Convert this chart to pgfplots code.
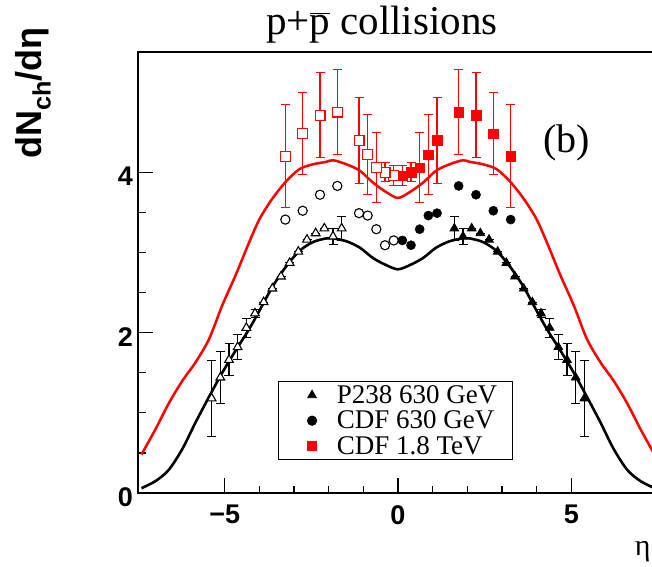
\documentclass[border=0pt]{standalone}
\usepackage{fontspec}
\setmainfont{Liberation Serif}
\newfontfamily\hv{Liberation Sans}
\usepackage{pgfplots}
\pgfplotsset{compat=1.18}
\begin{document}
\begin{tikzpicture}
\begin{axis}[
 at={(0pt,0pt)}, anchor=south west,
 scale only axis, width=520pt, height=441pt,
 xmin=-7.5, xmax=7.5, ymin=0, ymax=5.5,
 axis line style={line width=1.6pt},
 xtick={-5,0,5}, xticklabels={−5,0,5},
 ytick={0,2,4}, yticklabels={0,2,4},
 minor x tick num=4, minor y tick num=3,
 tick align=inside, xtick pos=bottom, ytick pos=left,
 major tick length=15pt, minor tick length=7.5pt,
 tick style={line width=1.3pt, black},
 xticklabel style={font=\hv\bfseries\fontsize{27}{27}\selectfont, inner sep=0pt, yshift=-12pt},
 yticklabel style={font=\hv\bfseries\fontsize{27}{27}\selectfont, inner sep=0pt, xshift=-5pt, yshift=-4pt},
 title={p+\(\overline{\mbox{p}}\) collisions},
 title style={font=\fontsize{41}{41}\selectfont, at={(axis description cs:0.469,1.027)}, anchor=base, inner sep=0pt},
 ylabel={dN\textsubscript{ch}/dη},
 ylabel style={font=\hv\bfseries\fontsize{36}{36}\selectfont, at={(axis description cs:-0.202,1.057)}, anchor=east, inner sep=0pt},
 xlabel={η},
 xlabel style={font=\fontsize{30}{30}\selectfont, at={(axis description cs:0.955,-0.134)}, anchor=west, inner sep=0pt},
 legend style={at={(axis description cs:0.269,0.254)}, anchor=north west, draw=black, line width=1pt, fill=white,
   font=\fontsize{27}{27}\selectfont, inner xsep=29pt, inner ysep=2pt, row sep=2pt,
   /tikz/every odd column/.append style={column sep=18pt}},
 legend cell align=left,
]
% P238 630 GeV, filled (positive eta)
\addplot[only marks, mark=triangle*, mark size=5pt, black, mark options={fill=black, line width=0.8pt},
  error bars/.cd, y dir=both, y explicit, error bar style={line width=1.1pt, black},
  error mark options={rotate=90, mark size=4.5pt, line width=1.1pt, black}]
 table[x=x, y=y, y error=e] {
x y e
1.625 3.30 0.15
1.875 3.20 0.10
2.125 3.30 0
2.375 3.24 0
2.625 3.16 0
2.875 3.01 0
3.125 2.87 0
3.375 2.70 0
3.625 2.55 0
3.875 2.38 0
4.125 2.24 0.05
4.375 2.06 0.115
4.625 1.82 0.16
4.875 1.66 0.20
5.125 1.44 0.32
5.375 1.18 0.47
};
\addlegendentry{\makebox[145pt][l]{P238 630 GeV}}
% CDF 630 GeV filled
\addplot[only marks, mark=*, mark size=4.6pt, black, mark options={fill=black}]
 table[x=x, y=y] {
x y
0.125 3.15
0.375 3.09
0.625 3.29
0.875 3.46
1.125 3.49
1.75 3.83
2.25 3.72
2.75 3.52
3.25 3.41
};
\addlegendentry{\makebox[145pt][l]{CDF 630 GeV}}
% CDF 1.8 TeV filled
\addplot[only marks, mark=square*, mark size=4.7pt, red, mark options={fill=red},
  error bars/.cd, y dir=both, y explicit, error bar style={line width=1.1pt, red},
  error mark options={rotate=90, mark size=4.5pt, line width=1.1pt, red}]
 table[x=x, y=y, y error=e] {
x y e
0.125 3.96 0.12
0.375 4.00 0.12
0.625 4.06 0.44
0.875 4.22 0.50
1.125 4.40 0.535
1.75 4.75 0.53
2.25 4.71 0.53
2.75 4.48 0.51
3.25 4.20 0.64
};
\addlegendentry{\makebox[145pt][l]{CDF 1.8 TeV}}
% reflected (open) points
\addplot[forget plot, only marks, mark=triangle*, mark size=5pt, black, mark options={fill=white, line width=1.1pt},
  error bars/.cd, y dir=both, y explicit, error bar style={line width=1.1pt, black},
  error mark options={rotate=90, mark size=4.5pt, line width=1.1pt, black}]
 table[x=x, y=y, y error=e] {
x y e
-1.625 3.30 0.15
-1.875 3.20 0.10
-2.125 3.30 0
-2.375 3.24 0
-2.625 3.16 0
-2.875 3.01 0
-3.125 2.87 0
-3.375 2.70 0
-3.625 2.55 0
-3.875 2.38 0
-4.125 2.24 0.05
-4.375 2.06 0.115
-4.625 1.82 0.16
-4.875 1.66 0.20
-5.125 1.44 0.32
-5.375 1.18 0.47
};
\addplot[forget plot, only marks, mark=*, mark size=4.6pt, black, mark options={fill=white, line width=1.1pt}]
 table[x=x, y=y] {
x y
-0.125 3.15
-0.375 3.09
-0.625 3.29
-0.875 3.46
-1.125 3.49
-1.75 3.83
-2.25 3.72
-2.75 3.52
-3.25 3.41
};
\addplot[forget plot, only marks, mark=square*, mark size=4.9pt, red, mark options={fill=white, line width=1.2pt},
  error bars/.cd, y dir=both, y explicit, error bar style={line width=1.1pt, red},
  error mark options={rotate=90, mark size=4.5pt, line width=1.1pt, red}]
 table[x=x, y=y, y error=e] {
x y e
-0.125 3.96 0.12
-0.375 4.00 0.12
-0.625 4.06 0.44
-0.875 4.22 0.50
-1.125 4.40 0.535
-1.75 4.75 0.53
-2.25 4.71 0.53
-2.75 4.48 0.51
-3.25 4.20 0.64
};
% model curves
\addplot[forget plot, black, line width=2.6pt, smooth, no markers] coordinates {
(-7.4,0.06) (-6.99,0.15) (-6.61,0.29) (-6.22,0.55) (-5.84,0.88) (-5.45,1.20) (-5.07,1.50) (-4.68,1.78)
(-4.30,2.04) (-3.99,2.28) (-3.61,2.58) (-3.22,2.83) (-2.84,3.02) (-2.45,3.13) (-2.07,3.175) (-1.87,3.175)
(-1.49,3.14) (-1.10,3.06) (-0.72,2.93) (-0.33,2.84) (0,2.79)
(0.33,2.84) (0.72,2.93) (1.10,3.06) (1.49,3.14) (1.87,3.175) (2.07,3.175) (2.45,3.13) (2.84,3.02)
(3.22,2.83) (3.61,2.58) (3.99,2.28) (4.30,2.04) (4.68,1.78) (5.07,1.50) (5.45,1.20) (5.84,0.88)
(6.22,0.55) (6.61,0.29) (6.99,0.15) (7.4,0.06)
};
\addplot[forget plot, red, line width=2.5pt, smooth, no markers] coordinates {
(-7.4,0.48) (-6.99,0.80) (-6.61,1.12) (-6.22,1.40) (-5.84,1.63) (-5.45,1.92) (-5.07,2.34) (-4.68,2.72)
(-4.30,3.12) (-3.99,3.42) (-3.61,3.68) (-3.22,3.89) (-2.84,4.04) (-2.45,4.10) (-2.07,4.13) (-1.87,4.15)
(-1.49,4.10) (-1.10,4.02) (-0.72,3.87) (-0.33,3.75) (0,3.68)
(0.33,3.75) (0.72,3.87) (1.10,4.02) (1.49,4.10) (1.87,4.15) (2.07,4.13) (2.45,4.10) (2.84,4.04)
(3.22,3.89) (3.61,3.68) (3.99,3.42) (4.30,3.12) (4.68,2.72) (5.07,2.34) (5.45,1.92) (5.84,1.63)
(6.22,1.40) (6.61,1.12) (6.99,0.80) (7.4,0.48)
};
\node[font=\fontsize{40}{40}\selectfont, anchor=base] at (axis cs:4.87,4.25) {(b)};
\end{axis}
\pgfresetboundingbox
\path (-138pt,-73pt) rectangle (514pt,493pt);
\end{tikzpicture}
\end{document}
